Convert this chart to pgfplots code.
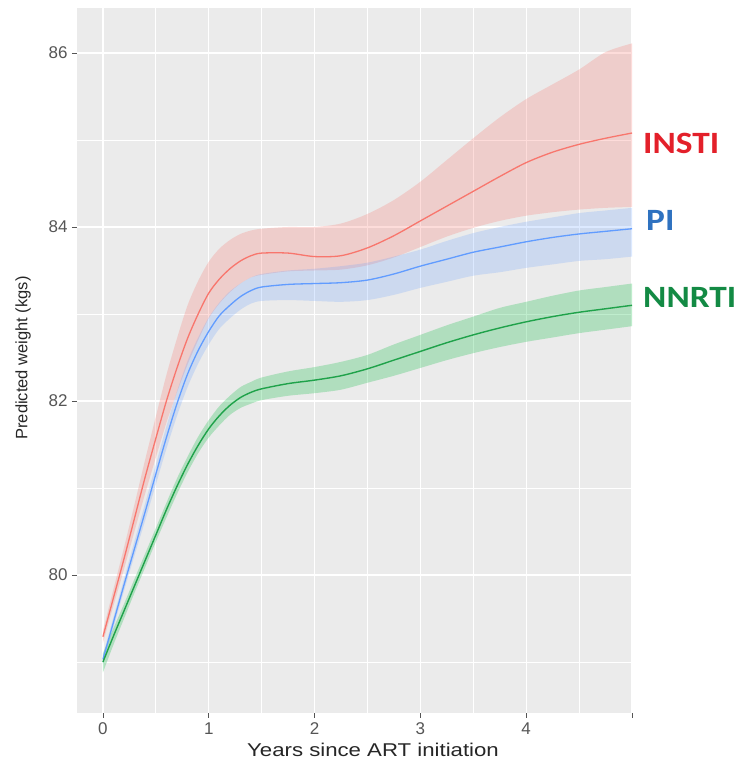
\documentclass[border=0pt]{standalone}
\usepackage{pgfplots}
\pgfplotsset{compat=1.18}
\usepackage{pgfplotstable}
\usepgfplotslibrary{fillbetween}
\usepackage{fontspec}
\setmainfont{Liberation Sans}
\newfontfamily\carlito{Carlito}
\definecolor{bgc}{HTML}{EBEBEB}
\definecolor{cred}{HTML}{F8766D}
\definecolor{cblue}{HTML}{619CFF}
\definecolor{cgreen}{HTML}{00BA38}
\definecolor{lgreen}{HTML}{1FA24A}
\definecolor{tred}{HTML}{E3202A}
\definecolor{tblue}{HTML}{2F72C0}
\definecolor{tgreen}{HTML}{138A44}
\definecolor{tickc}{HTML}{555555}

\pgfplotstableread{
x y hi lo
0 79.29 79.36 79.22
0.1 79.74 79.84 79.65
0.2 80.19 80.32 80.07
0.3 80.66 80.82 80.51
0.4 81.13 81.33 80.94
0.5 81.57 81.82 81.35
0.6 82.00 82.30 81.75
0.7 82.38 82.72 82.10
0.8 82.72 83.10 82.42
0.9 83.00 83.38 82.70
1.0 83.24 83.60 82.95
1.1 83.40 83.75 83.12
1.2 83.52 83.85 83.25
1.3 83.61 83.92 83.35
1.4 83.67 83.96 83.42
1.5 83.70 83.98 83.45
1.75 83.70 84.00 83.49
2.0 83.66 84.00 83.50
2.25 83.67 84.04 83.51
2.5 83.76 84.15 83.56
2.75 83.90 84.31 83.65
3.0 84.07 84.52 83.77
3.25 84.24 84.77 83.89
3.5 84.41 85.02 83.99
3.75 84.58 85.26 84.07
4.0 84.74 85.47 84.13
4.25 84.86 85.64 84.17
4.5 84.95 85.81 84.20
4.75 85.02 86.01 84.22
5.0 85.08 86.11 84.23
}\tabI

\pgfplotstableread{
x y hi lo
0 79.03 79.08 78.98
0.1 79.46 79.52 79.40
0.2 79.89 79.96 79.82
0.3 80.31 80.40 80.23
0.4 80.73 80.83 80.63
0.5 81.16 81.27 81.04
0.6 81.58 81.71 81.45
0.7 81.97 82.11 81.83
0.8 82.31 82.46 82.16
0.9 82.58 82.73 82.43
1.0 82.80 82.96 82.65
1.1 82.98 83.13 82.83
1.2 83.10 83.26 82.95
1.3 83.20 83.35 83.05
1.4 83.27 83.42 83.12
1.5 83.31 83.46 83.15
1.75 83.34 83.50 83.16
2.0 83.35 83.52 83.15
2.25 83.36 83.55 83.14
2.5 83.39 83.59 83.16
2.75 83.46 83.66 83.22
3.0 83.55 83.74 83.30
3.25 83.63 83.84 83.37
3.5 83.71 83.93 83.44
3.75 83.77 84.00 83.48
4.0 83.83 84.06 83.53
4.25 83.88 84.11 83.57
4.5 83.92 84.16 83.61
4.75 83.95 84.19 83.63
5.0 83.98 84.22 83.66
}\tabP

\pgfplotstableread{
x y hi lo
0 79.00 79.10 78.88
0.1 79.30 79.39 79.20
0.2 79.59 79.67 79.50
0.3 79.88 79.96 79.80
0.4 80.17 80.25 80.09
0.5 80.46 80.54 80.38
0.6 80.75 80.83 80.66
0.7 81.02 81.11 80.93
0.8 81.27 81.36 81.18
0.9 81.49 81.59 81.40
1.0 81.68 81.78 81.58
1.1 81.83 81.94 81.72
1.2 81.95 82.06 81.84
1.3 82.04 82.16 81.92
1.4 82.10 82.22 81.97
1.5 82.14 82.27 82.01
1.75 82.20 82.34 82.06
2.0 82.24 82.39 82.09
2.25 82.29 82.45 82.13
2.5 82.37 82.53 82.21
2.75 82.47 82.65 82.29
3.0 82.57 82.76 82.38
3.25 82.67 82.87 82.47
3.5 82.76 82.97 82.55
3.75 82.84 83.07 82.62
4.0 82.91 83.14 82.68
4.25 82.97 83.21 82.73
4.5 83.02 83.27 82.78
4.75 83.06 83.31 82.82
5.0 83.10 83.35 82.86
}\tabN

\begin{document}
\begin{tikzpicture}
\begin{axis}[
  at={(77pt,48pt)}, anchor=south west,
  scale only axis, width=555pt, height=705pt,
  xmin=-0.245, xmax=5, ymin=78.414, ymax=86.517,
  axis background/.style={fill=bgc},
  axis line style={draw=none},
  xtick={0,1,2,3,4,5}, xticklabels={0,1,2,3,4,{}},
  ytick={80,82,84,86},
  minor xtick={0.5,1.5,2.5,3.5,4.5},
  minor ytick={79,81,83,85},
  grid=both,
  major grid style={white, line width=1.3pt},
  minor grid style={white, line width=0.7pt},
  tick align=outside,
  major tick length=5pt, minor tick length=0pt,
  tick style={tickc, line width=0.8pt},
  xtick pos=bottom, ytick pos=left,
  ticklabel style={font=\fontsize{17}{17}\selectfont, text=tickc},
  /pgf/number format/assume math mode=true,
  xticklabel style={yshift=-1pt},
  yticklabel style={xshift=-1pt},
  clip=true,
]
\addplot[name path=rhi, draw=none, forget plot, smooth] table[x=x,y=hi]{\tabI};
\addplot[name path=rlo, draw=none, forget plot, smooth] table[x=x,y=lo]{\tabI};
\addplot[fill=cred, fill opacity=0.25, draw=none] fill between[of=rhi and rlo];
\addplot[name path=bhi, draw=none, forget plot, smooth] table[x=x,y=hi]{\tabP};
\addplot[name path=blo, draw=none, forget plot, smooth] table[x=x,y=lo]{\tabP};
\addplot[fill=cblue, fill opacity=0.22, draw=none] fill between[of=bhi and blo];
\addplot[name path=ghi, draw=none, forget plot, smooth] table[x=x,y=hi]{\tabN};
\addplot[name path=glo, draw=none, forget plot, smooth] table[x=x,y=lo]{\tabN};
\addplot[fill=cgreen, fill opacity=0.25, draw=none] fill between[of=ghi and glo];
\addplot[cred, line width=1.3pt, smooth] table[x=x,y=y]{\tabI};
\addplot[cblue, line width=1.3pt, smooth] table[x=x,y=y]{\tabP};
\addplot[lgreen, line width=1.4pt, smooth] table[x=x,y=y]{\tabN};
\end{axis}
\node[rotate=90, font=\fontsize{16.5}{16.5}\selectfont, text=black!85] at (23pt,403pt) {Predicted weight (kgs)};
\node[xscale=1.2, font=\fontsize{18.5}{18.5}\selectfont, text=black!85] at (373pt,11pt) {Years since ART initiation};
\node[anchor=west, xscale=1.14, font=\carlito\bfseries\fontsize{31}{31}\selectfont, text=tred, inner sep=0pt] at (643pt,618pt) {INSTI};
\node[anchor=west, xscale=1.14, font=\carlito\bfseries\fontsize{31}{31}\selectfont, text=tblue, inner sep=0pt] at (646pt,541pt) {PI};
\node[anchor=west, xscale=1.14, font=\carlito\bfseries\fontsize{31}{31}\selectfont, text=tgreen, inner sep=0pt] at (643pt,464pt) {NNRTI};
\pgfresetboundingbox
\path[use as bounding box] (0pt,0pt) rectangle (739pt,761pt);
\end{tikzpicture}
\end{document}
